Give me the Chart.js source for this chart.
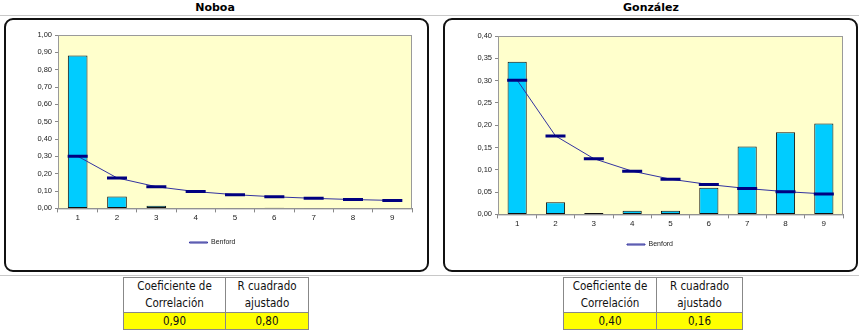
<!DOCTYPE html>
<html>
<head>
<meta charset="utf-8">
<script src="https://cdn.jsdelivr.net/npm/chart.js@4.4.0/dist/chart.umd.min.js"></script>
<style>
  body { margin: 0; width: 859px; height: 335px; background: #fff; position: relative; overflow: hidden; font-family: "DejaVu Sans", sans-serif; }
  .title { position: absolute; top: 0; font-weight: bold; font-size: 11px; text-align: center; width: 200px; line-height: 16px; }
  .hline { position: absolute; left: 0; width: 859px; height: 1px; background: #c8c8c8; }
  .box { position: absolute; border: 2px solid #111; border-radius: 9px; box-sizing: border-box; }
  .cv { position: absolute; }
  table { position: absolute; border-collapse: collapse; font-family: "DejaVu Sans Condensed", "DejaVu Sans", sans-serif; font-size: 11.5px; color: #111; }
  td { border: 1px solid #888; text-align: center; padding: 0; line-height: 17px; }
  td.val { background: #ffff00; line-height: 16px; }
</style>
</head>
<body>
<div class="title" style="left:115px">Noboa</div>
<div class="title" style="left:551px">González</div>
<div class="hline" style="top:15px"></div>
<div class="hline" style="top:275px"></div>
<div class="box" style="left:4px;top:18px;width:425px;height:254px"></div>
<div class="box" style="left:443px;top:18px;width:415px;height:254px"></div>
<canvas id="c1" class="cv" style="left:8px;top:22px" width="417" height="246"></canvas>
<canvas id="c2" class="cv" style="left:447px;top:22px" width="409" height="246"></canvas>

<table style="left:123px;top:277px;width:186px">
  <tr><td style="width:101px">Coeficiente de<br>Correlación</td><td>R cuadrado<br>ajustado</td></tr>
  <tr><td class="val" id="r1"></td><td class="val" id="q1"></td></tr>
</table>
<table style="left:563px;top:277px;width:180px">
  <tr><td style="width:92px">Coeficiente de<br>Correlación</td><td>R cuadrado<br>ajustado</td></tr>
  <tr><td class="val" id="r2"></td><td class="val" id="q2"></td></tr>
</table>

<script>
// datos
const digits = ['1', '2', '3', '4', '5', '6', '7', '8', '9'];
const benford = [0.301, 0.176, 0.125, 0.097, 0.079, 0.067, 0.058, 0.051, 0.046];
const noboa = [0.882, 0.068, 0.016, 0.002, 0.001, 0.004, 0.001, 0.001, 0.003];
const gonzalez = [0.342, 0.027, 0.003, 0.008, 0.008, 0.060, 0.152, 0.184, 0.204];
const noboaStats = ['0,90', '0,80'];
const gonzalezStats = ['0,40', '0,16'];

document.getElementById('r1').innerText = noboaStats[0];
document.getElementById('q1').innerText = noboaStats[1];
document.getElementById('r2').innerText = gonzalezStats[0];
document.getElementById('q2').innerText = gonzalezStats[1];

const tickFont = { family: 'Liberation Sans', size: 8 };

// fondo amarillo del area de trazado
const plotBg = {
    id: 'plotBg',
    beforeDraw(chart) {
        const a = chart.chartArea, ctx = chart.ctx;
        ctx.save();
        ctx.fillStyle = '#ffffcc';
        ctx.fillRect(a.left, a.top, a.right - a.left, a.bottom - a.top);
        ctx.restore();
    },
    afterDatasetsDraw(chart) {
        const a = chart.chartArea, ctx = chart.ctx;
        ctx.save();
        ctx.strokeStyle = '#9a9a9a';
        ctx.lineWidth = 1;
        ctx.strokeRect(a.left + 0.5, a.top + 0.5, a.right - a.left - 1, a.bottom - a.top);
        ctx.restore();
    }
};

function makeChart(id, values, yMax, yStep, pad) {
    return new Chart(document.getElementById(id), {
        data: {
            labels: digits,
            datasets: [
                {
                    type: 'line',
                    label: 'Benford',
                    data: benford,
                    borderColor: '#3333a0',
                    borderWidth: 1,
                    pointStyle: 'line',
                    pointRadius: 10,
                    pointBorderWidth: 3,
                    pointBorderColor: '#000080',
                    pointBackgroundColor: '#000080',
                    tension: 0,
                    order: 0
                },
                {
                    type: 'bar',
                    label: 'Datos',
                    data: values,
                    backgroundColor: '#00ccff',
                    borderColor: '#111',
                    borderWidth: 1,
                    borderSkipped: false,
                    barPercentage: 0.5,
                    categoryPercentage: 1,
                    order: 1
                }
            ]
        },
        options: {
            responsive: false,
            animation: false,
            layout: { padding: { left: 0, right: pad.right, top: pad.top, bottom: pad.bottom } },
            plugins: {
                tooltip: { enabled: false },
                legend: {
                    position: 'bottom',
                    labels: {
                        filter: item => item.text === 'Benford',
                        font: { family: 'Liberation Sans', size: 7 },
                        color: '#222',
                        boxWidth: 18,
                        boxHeight: 1,
                        padding: pad.leg
                    }
                }
            },
            scales: {
                x: {
                    offset: true,
                    grid: { offset: true, drawOnChartArea: false, tickLength: 4, color: '#888' },
                    border: { color: '#888' },
                    ticks: { font: tickFont, color: '#222', padding: 1 }
                },
                y: {
                    min: 0,
                    max: yMax,
                    grid: { drawOnChartArea: false, tickLength: 3, color: '#888' },
                    border: { color: '#888' },
                    ticks: {
                        stepSize: yStep,
                        font: { family: 'Liberation Sans', size: 7.5 },
                        color: '#222',
                        padding: 3,
                        callback: v => v.toFixed(2).replace('.', ',')
                    },
                    afterFit(scale) { scale.width = pad.yw; }
                }
            }
        },
        plugins: [plotBg]
    });
}

makeChart('c1', noboa, 1.0, 0.1, { right: 8, top: 13, bottom: 12, leg: 15, yw: 50 });
makeChart('c2', gonzalez, 0.4, 0.05, { right: 3, top: 14, bottom: 10, leg: 11, yw: 51 });
</script>
</body>
</html>
